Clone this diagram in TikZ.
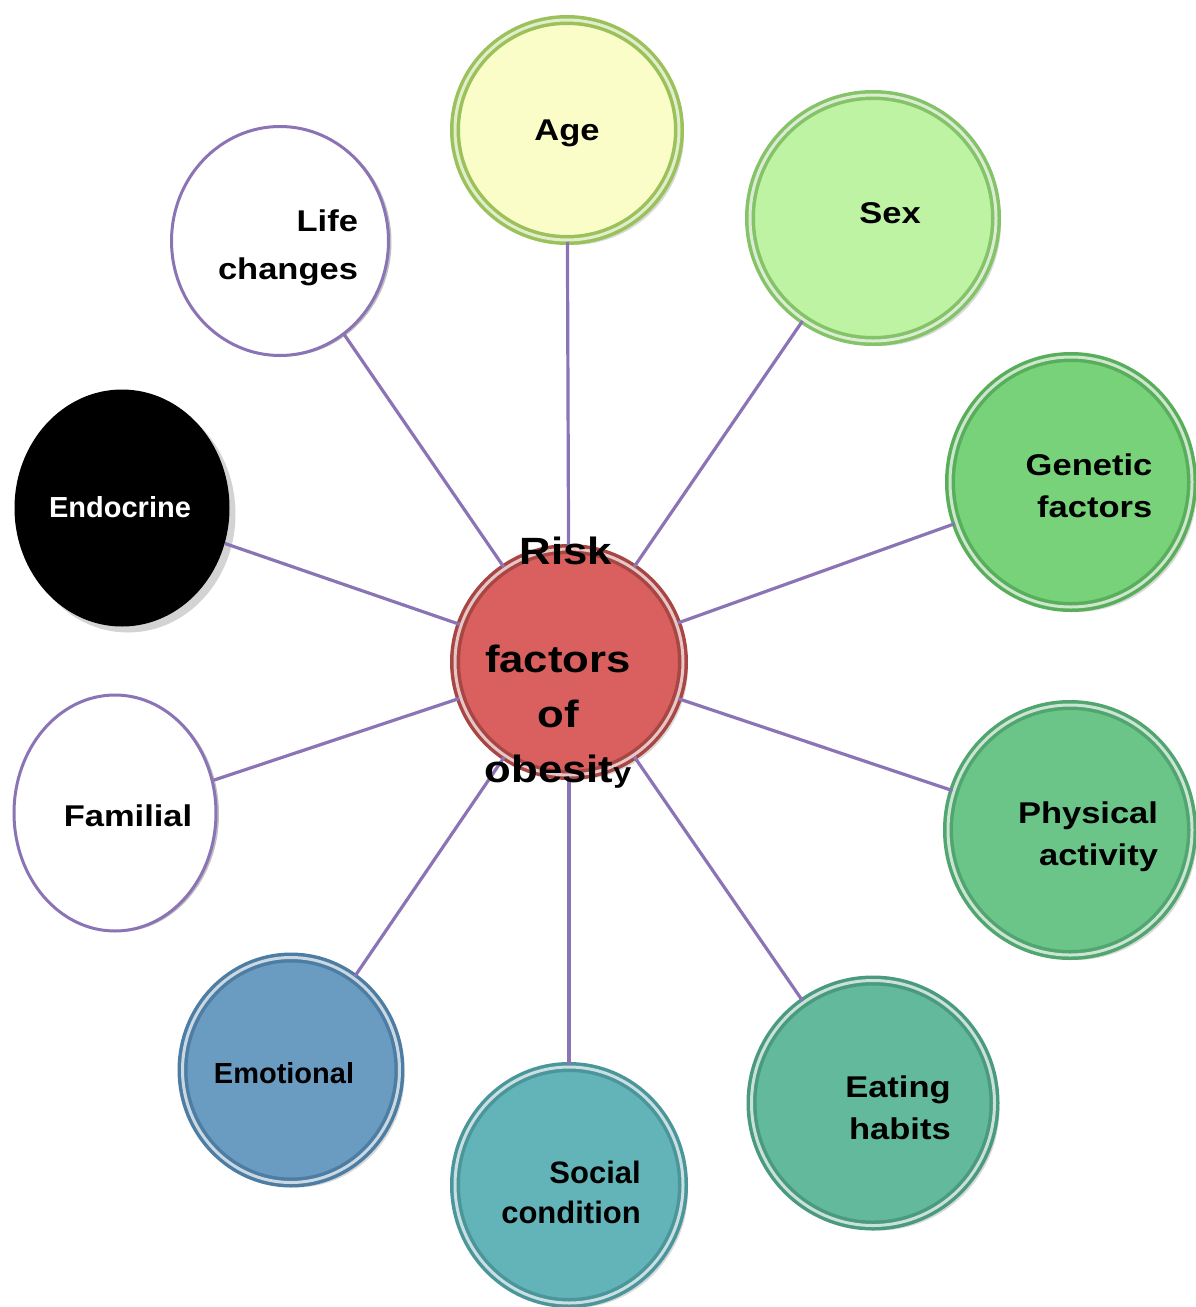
\documentclass[tikz,border=0pt]{standalone}
\usepackage{fontspec}
\setmainfont{Liberation Sans}
\newfontfamily\widefont{Liberation Sans}[FakeStretch=1.15]
\usetikzlibrary{shapes.geometric,shadows}

\definecolor{spokeclr}{HTML}{8B74B6}
\definecolor{ctrfill}{HTML}{D9605E}
\definecolor{ctrrim}{HTML}{A94643}
\definecolor{agefill}{HTML}{FAFDC8}
\definecolor{agerim}{HTML}{9BC25A}
\definecolor{sexfill}{HTML}{BDF3A2}
\definecolor{sexrim}{HTML}{84C368}
\definecolor{genfill}{HTML}{78D27A}
\definecolor{genrim}{HTML}{58AE5B}
\definecolor{phyfill}{HTML}{6BC589}
\definecolor{phyrim}{HTML}{50A66E}
\definecolor{eatfill}{HTML}{62B99C}
\definecolor{eatrim}{HTML}{4A9A80}
\definecolor{socfill}{HTML}{63B4B9}
\definecolor{socrim}{HTML}{4A969B}
\definecolor{emofill}{HTML}{6A9CC2}
\definecolor{emorim}{HTML}{4D7DA2}

\begin{document}
\begin{tikzpicture}[x=1pt, y=-1pt,
  bubble/.style n args={2}{ellipse, fill=#1, draw=#2, double=#2!30!white,
    line width=3.5pt, double distance=3pt, inner sep=0pt,
    drop shadow={shadow xshift=5pt, shadow yshift=-5pt, opacity=0.3}},
  ring/.style={ellipse, fill=white, draw=spokeclr, line width=3pt, inner sep=0pt,
    drop shadow={shadow xshift=3pt, shadow yshift=-1pt, opacity=0.5}},
  txt/.style={font=\widefont\bfseries\fontsize{30}{42}\selectfont, align=right, inner sep=0pt},
  plaintxt/.style={font=\bfseries\fontsize{29}{42}\selectfont, align=right, inner sep=0pt},
  bigtxt/.style={font=\widefont\bfseries\fontsize{38}{55}\selectfont, align=center, inner sep=0pt},
  spoke/.style={draw=spokeclr, line width=3.2pt}]

  \useasboundingbox (0,0) rectangle (1196,1307);

  % centre
  \node[bubble={ctrfill}{ctrrim}, minimum width=228, minimum height=226] (ctr) at (569,662) {};

  % factors round it
  \node[bubble={agefill}{agerim}, minimum width=224, minimum height=220] (age) at (567,130) {};
  \node[bubble={sexfill}{sexrim}, minimum width=246, minimum height=246] (sex) at (873,218) {};
  \node[bubble={genfill}{genrim}, minimum width=242, minimum height=250] (gen) at (1071,482) {};
  \node[bubble={phyfill}{phyrim}, minimum width=244, minimum height=250] (phy) at (1070,830) {};
  \node[bubble={eatfill}{eatrim}, minimum width=243, minimum height=245] (eat) at (873,1103) {};
  \node[bubble={socfill}{socrim}, minimum width=228, minimum height=236] (soc) at (569,1185) {};
  \node[bubble={emofill}{emorim}, minimum width=217, minimum height=225] (emo) at (291,1070) {};
  \node[ring, minimum width=202, minimum height=236] (fam) at (115,813) {};
  \node[ellipse, fill=black, inner sep=0pt, minimum width=215, minimum height=237,
    drop shadow={shadow xshift=6pt, shadow yshift=-6pt, opacity=0.35}] (endo) at (122,508) {};
  \node[ring, minimum width=217, minimum height=229] (life) at (280,241) {};

  % spokes
  \foreach \f in {age,sex,gen,phy,eat,soc,emo,fam,endo,life}
    \draw[spoke] (ctr) -- (\f);

  % texts
  \node[bigtxt] (risk) at ([shift={(-3,-111)}]ctr) {Risk};
  \node[bigtxt] (obes) at ([shift={(-11,55)}]ctr) {factors\\of\\obesit{\fontsize{28}{28}\selectfont y}};
  \node[txt] (agetxt) at ([shift={(0,3)}]age) {Age};
  \node[txt] (sextxt) at ([shift={(17,-5)}]sex) {Sex};
  \node[txt] (gentxt) at ([shift={(18,4)}]gen) {Genetic\\factors};
  \node[txt] (phytxt) at ([shift={(18,7)}]phy) {Physical\\activity};
  \node[txt] (eattxt) at ([shift={(25,5)}]eat) {Eating\\habits};
  \node[plaintxt, font=\bfseries\fontsize{31}{40}\selectfont] (soctxt) at ([shift={(2,7)}]soc) {Social\\condition};
  \node[plaintxt] (emotxt) at ([shift={(-7,3)}]emo) {Emotional};
  \node[txt] (famtxt) at ([shift={(13,3)}]fam) {Familial};
  \node[plaintxt, text=white] (endotxt) at ([shift={(-2,-1)}]endo) {Endocrine};
  \node[txt, font=\widefont\bfseries\fontsize{30}{48}\selectfont] (lifetxt) at ([shift={(8,7)}]life) {Life\\changes};
\end{tikzpicture}
\end{document}
